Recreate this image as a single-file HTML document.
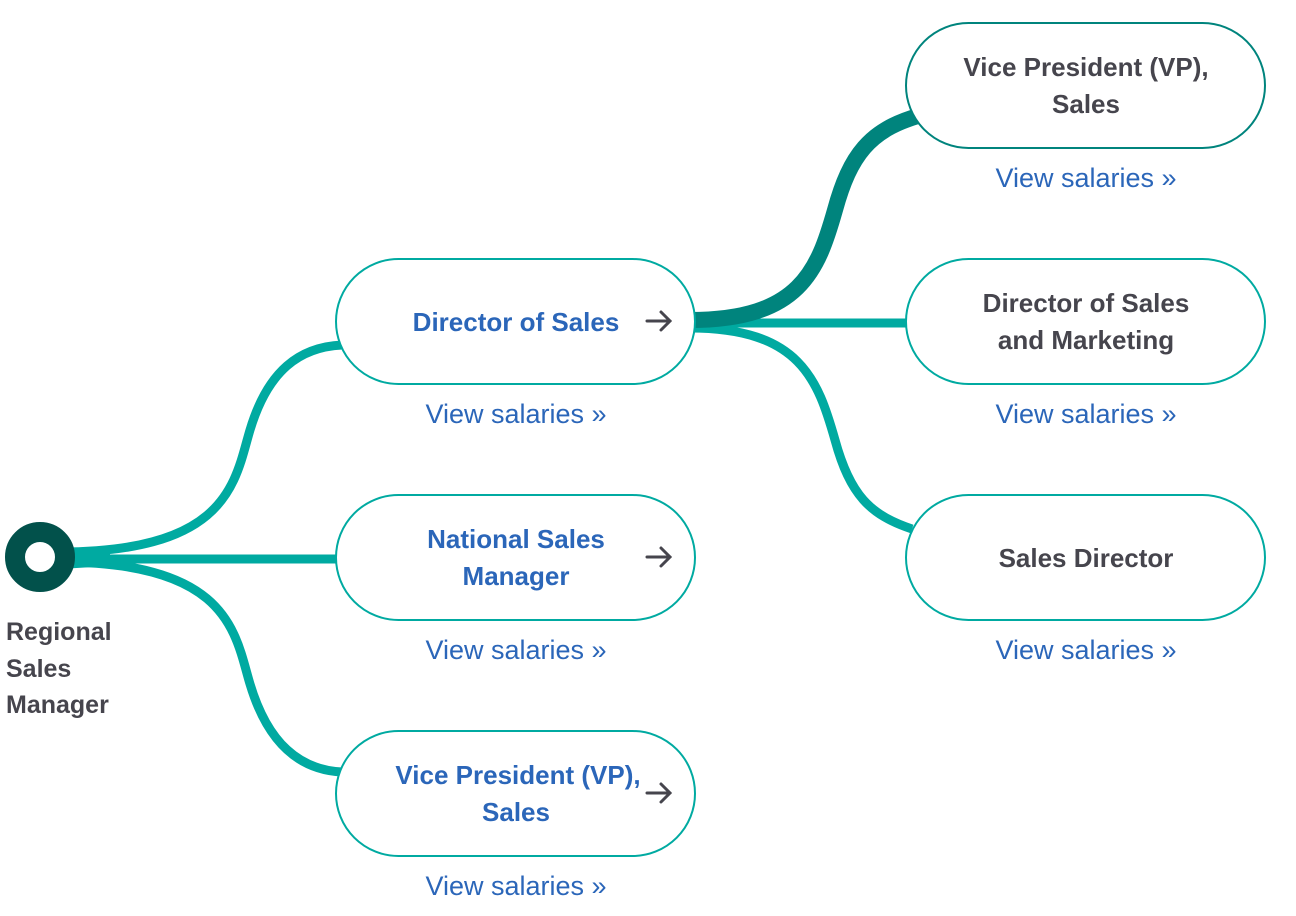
<!DOCTYPE html>
<html><head><style>
html,body{margin:0;padding:0;background:#fff;}
svg{display:block;}
text{font-family:"Liberation Sans",sans-serif;}
.b{font-weight:bold;font-size:26px;}
.g{fill:#46454d;}
.bl{fill:#2b66b9;}
.v{font-size:27px;fill:#2b66b9;}
</style></head><body>
<svg width="1296" height="916" viewBox="0 0 1296 916" xmlns="http://www.w3.org/2000/svg">
<g fill="none" stroke="#00aaa1" stroke-width="9">
<path d="M60,552 C230,552 235,480 250,430 C268,370 300,347 342,345"/>
<path d="M60,559 L338,559"/>
<path d="M60,562 C230,562 235,634 250,684 C268,744 300,770 342,772"/>
<path d="M690,328 C800,328 818,380 835,440 C850,495 870,515 912,529"/>
<path d="M690,323 L908,323"/>
</g>
<path d="M60,548 L110,550 L110,566 L60,569 Z" fill="#00aaa1"/>
<path d="M690,320 C800,320 818,270 835,210 C850,155 870,130 918,116" fill="none" stroke="#00847d" stroke-width="16"/>
<circle cx="40" cy="557" r="25" fill="none" stroke="#02514b" stroke-width="20"/>
<g fill="#fff" stroke="#00aaa1" stroke-width="2">
<rect x="336" y="259" width="359" height="125" rx="62.5"/>
<rect x="336" y="495" width="359" height="125" rx="62.5"/>
<rect x="336" y="731" width="359" height="125" rx="62.5"/>
<rect x="906" y="259" width="359" height="125" rx="62.5"/>
<rect x="906" y="495" width="359" height="125" rx="62.5"/>
</g>
<rect x="906" y="23" width="359" height="125" rx="62.5" fill="#fff" stroke="#00847d" stroke-width="2"/>
<g fill="none" stroke="#46454d" stroke-width="3" stroke-linecap="round">
<path d="M647,321 H670 M661,312 L670,321 L661,330"/>
<path d="M647,557 H670 M661,548 L670,557 L661,566"/>
<path d="M647,793 H670 M661,784 L670,793 L661,802"/>
</g>
<g class="b" text-anchor="middle">
<text x="516" y="331" class="bl">Director of Sales</text>
<text x="516" y="548" class="bl">National Sales</text>
<text x="516" y="585" class="bl">Manager</text>
<text x="518" y="784" class="bl">Vice President (VP),</text>
<text x="516" y="821" class="bl">Sales</text>
<text x="1086" y="76" class="g">Vice President (VP),</text>
<text x="1086" y="113" class="g">Sales</text>
<text x="1086" y="312" class="g">Director of Sales</text>
<text x="1086" y="349" class="g">and Marketing</text>
<text x="1086" y="567" class="g">Sales Director</text>
</g>
<g class="g" font-weight="bold" font-size="25">
<text x="6" y="640">Regional</text>
<text x="6" y="677">Sales</text>
<text x="6" y="713">Manager</text>
</g>
<g class="v" text-anchor="middle">
<text x="516" y="423">View salaries »</text>
<text x="516" y="659">View salaries »</text>
<text x="516" y="895">View salaries »</text>
<text x="1086" y="187">View salaries »</text>
<text x="1086" y="423">View salaries »</text>
<text x="1086" y="659">View salaries »</text>
</g>
</svg>
</body></html>
